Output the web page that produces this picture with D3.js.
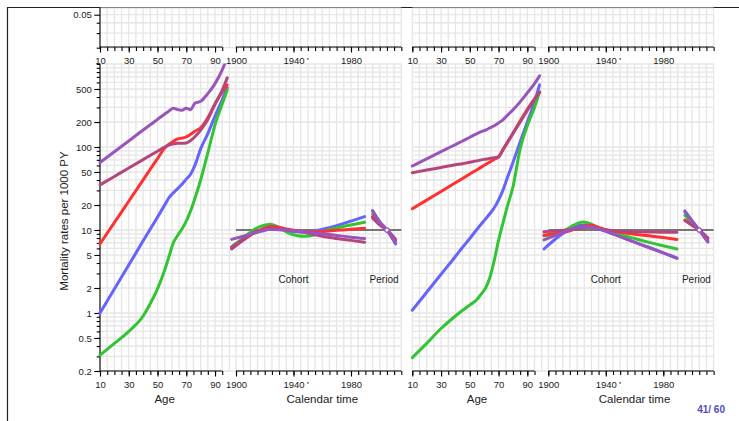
<!DOCTYPE html>
<html>
<head>
<meta charset="utf-8">
<script src="https://cdn.jsdelivr.net/npm/d3@7"></script>
<style>
  body { margin: 0; background: #fff; }
  svg { display: block; font-family: "Liberation Sans", Arial, sans-serif; }
</style>
</head>
<body>
<div id="chart"></div>
<script>
const ageKnots = [10, 20, 30, 40, 45, 50, 55, 58, 61, 64, 67, 70, 73, 76, 80, 85, 90, 95, 98.5];
const cohortYears = [1897, 1905, 1912, 1918, 1924, 1930, 1936, 1942, 1948, 1954, 1960, 1970, 1980, 1989.5];
const periodYears = [1995, 2000, 2005, 2011];

// series order: blue, green, red, magenta, purple
const seriesColors = ["#6464ff", "#33c433", "#ff3030", "#b4467e", "#9a55bc"];

// left panel: age-specific rates per 1000 PY
const ageLeft = [
  [1.0, 1.95, 3.78, 7.4, 10.3, 14.3, 20, 24.5, 28, 31.5, 35.5, 41, 47, 60, 95, 145, 235, 370, 520],
  [0.31, 0.43, 0.6, 0.92, 1.3, 1.95, 3.3, 4.8, 7.0, 8.6, 10.3, 12.8, 17, 24, 40, 85, 185, 330, 485],
  [6.8, 12.3, 22.2, 40.2, 54, 72.5, 97, 108, 117, 125, 128, 132, 142, 155, 170, 225, 330, 460, 560],
  [35, 44.2, 55.8, 70.5, 79.3, 89, 100, 106, 109, 111, 111, 112, 120, 133, 160, 215, 330, 480, 680],
  [65, 87.7, 118, 160, 185, 215, 250, 272, 293, 282, 278, 293, 282, 336, 355, 440, 580, 850, 1200]
];
// left panel: cohort rate ratios
const cohortLeft = [
  [0.59, 0.75, 0.91, 1.0, 1.05, 1.03, 0.98, 0.95, 0.94, 0.97, 1.02, 1.13, 1.28, 1.45],
  [0.63, 0.8, 1.0, 1.12, 1.17, 1.07, 0.93, 0.86, 0.84, 0.87, 0.95, 1.06, 1.15, 1.24],
  [0.6, 0.76, 0.91, 1.02, 1.1, 1.08, 1.02, 0.98, 0.96, 0.955, 0.96, 0.99, 1.02, 1.05],
  [0.62, 0.77, 0.93, 1.0, 1.05, 1.03, 1.0, 0.97, 0.93, 0.88, 0.84, 0.79, 0.75, 0.71],
  [0.77, 0.84, 0.91, 0.97, 1.02, 1.01, 0.99, 0.97, 0.95, 0.92, 0.9, 0.86, 0.82, 0.79]
];
// left panel: period rate ratios
const periodLeft = [
  [1.7, 1.25, 1.0, 0.68],
  [1.55, 1.2, 1.0, 0.72],
  [1.45, 1.17, 1.0, 0.76],
  [1.4, 1.15, 1.0, 0.77],
  [1.7, 1.25, 1.0, 0.7]
];

// right panel
const ageRight = [
  [1.08, 1.78, 2.93, 4.8, 6.2, 7.9, 10.2, 11.8, 13.6, 15.8, 18.5, 23, 30, 42, 65, 115, 200, 350, 560],
  [0.29, 0.43, 0.65, 0.92, 1.08, 1.25, 1.45, 1.7, 2.0, 2.7, 4.3, 7.5, 12, 19, 33, 95, 180, 300, 460],
  [18, 22.9, 29.1, 37.1, 41.8, 47.2, 53.3, 57.2, 61.5, 66, 71, 76, 92, 112, 146, 205, 285, 380, 455],
  [49, 52.7, 56.7, 61, 63, 65.6, 68, 70, 71.3, 72.6, 74.5, 76, 93, 113, 146, 200, 275, 375, 460],
  [59, 72, 88, 107, 118, 131, 145, 153, 160, 170, 180, 195, 212, 240, 280, 350, 450, 580, 720]
];
const cohortRight = [
  [0.59, 0.78, 0.95, 1.08, 1.15, 1.1, 1.02, 0.94, 0.86, 0.78, 0.715, 0.615, 0.53, 0.46],
  [0.85, 0.9, 1.0, 1.15, 1.25, 1.18, 1.04, 0.97, 0.9, 0.84, 0.79, 0.71, 0.645, 0.59],
  [0.87, 0.9, 0.95, 1.02, 1.1, 1.14, 1.06, 0.99, 0.95, 0.92, 0.89, 0.85, 0.81, 0.77],
  [0.95, 0.97, 1.0, 1.03, 1.07, 1.08, 1.03, 0.99, 0.97, 0.96, 0.95, 0.945, 0.94, 0.94],
  [0.76, 0.86, 0.96, 1.05, 1.1, 1.08, 1.02, 0.94, 0.86, 0.78, 0.715, 0.615, 0.53, 0.455]
];
const periodRight = [
  [1.7, 1.3, 1.0, 0.72],
  [1.5, 1.22, 1.0, 0.75],
  [1.32, 1.15, 1.0, 0.79],
  [1.3, 1.14, 1.0, 0.8],
  [1.65, 1.28, 1.0, 0.72]
];

const rateLabels = [0.2, 0.5, 1, 2, 5, 10, 20, 50, 100, 200, 500];
const topRateLabels = [0.05];
const ageLabels = [10, 30, 50, 70, 90];
const calLabels = [1900, 1940, 1980];

const width = 739, height = 421;
const gridColor = "#e6e6e6";

const svg = d3.select("#chart").append("svg")
  .attr("width", width).attr("height", height);

const yRate = d3.scaleLog().domain([0.2, 1000]).range([371, 64]);
const yTop = d3.scaleLog().domain([0.02, 0.05]).range([47.7, 14.7]);
const xAge = d3.scaleLinear().domain([10, 100]).range([100, 229.4]);
const xCal = d3.scaleLinear().domain([1900, 2015]).range([236, 401.3]);
const rr = v => yRate(v * 10);   // RR = 1 sits on rate 10

const ageTicks = d3.range(10, 96, 5);
const calTicks = d3.range(1900, 2016, 5);
const ageGrid = d3.range(10, 101, 5);

// minor log ticks
function logMinors(lo, hi) {
  const out = [];
  for (let e = -3; e <= 3; e++)
    for (let k = 1; k <= 9; k++) {
      const v = +(k * Math.pow(10, e)).toPrecision(3);
      if (v >= lo - 1e-9 && v <= hi + 1e-9) out.push(v);
    }
  return out;
}
const rateMinors = logMinors(0.2, 1000);
const topMinors = logMinors(0.02, 0.06);

// slide frame
svg.append("line").attr("x1", 7).attr("x2", width).attr("y1", 7.5).attr("y2", 7.5)
  .attr("stroke", "#222").attr("stroke-width", 1.2);
svg.append("line").attr("x1", 7.5).attr("x2", 7.5).attr("y1", 7).attr("y2", height)
  .attr("stroke", "#222").attr("stroke-width", 1.2);

svg.append("defs").append("clipPath").attr("id", "plotclip")
  .append("rect").attr("x", 90).attr("y", 63.5).attr("width", 330).attr("height", 308);

function drawPanel(offset, ages, cohorts, periods, withYAxis) {
  const g = svg.append("g").attr("transform", `translate(${offset},0)`);

  // grid, lower (main) block and upper block
  const blocks = [[63.5, 371, yRate, rateMinors], [8, 47.7, yTop, topMinors]];
  blocks.forEach(([y0, y1, ys, vals]) => {
    const grid = g.append("g").attr("stroke", gridColor).attr("stroke-width", 1.3);
    grid.selectAll(".h").data(vals).enter().append("line")
      .attr("x1", 100).attr("x2", xCal(2015))
      .attr("y1", d => ys(d)).attr("y2", d => ys(d));
    grid.selectAll(".va").data(ageGrid).enter().append("line")
      .attr("x1", d => xAge(d)).attr("x2", d => xAge(d)).attr("y1", y0).attr("y2", y1);
    grid.selectAll(".vc").data(calTicks).enter().append("line")
      .attr("x1", d => xCal(d)).attr("x2", d => xCal(d)).attr("y1", y0).attr("y2", y1);
  });

  // x axes at top (y=47) and bottom (y=371)
  [47, 371].forEach(yy => {
    const ax = g.append("g").attr("transform", `translate(0,${yy})`);
    [[xAge, ageTicks, ageLabels], [xCal, calTicks, calLabels]].forEach(([sc, all, lab]) => {
      ax.append("g").call(d3.axisBottom(sc).tickValues(all).tickSize(4).tickFormat(""))
        .call(a => a.select(".domain").remove());
      ax.append("g").call(d3.axisBottom(sc).tickValues(lab).tickSize(5.5).tickPadding(5).tickFormat(d3.format("d")))
        .call(a => a.select(".domain").remove());
      ax.append("line").attr("x1", sc(all[0])).attr("x2", sc(all[all.length - 1]))
        .attr("stroke", "#000").attr("stroke-width", 1.1);
    });
    ax.selectAll("line").attr("stroke-width", 1.1);
    ax.selectAll("text").attr("font-size", 9.5).attr("fill", "#222")
      .attr("font-family", "Liberation Sans, Arial, sans-serif");
    // small mark after the 1940 label
    ax.append("rect").attr("x", xCal(1950) - 0.7).attr("y", 11.2)
      .attr("width", 1.4).attr("height", 1.4).attr("fill", "#333");
  });

  if (withYAxis) {
    const ya = g.append("g").attr("transform", "translate(100,0)");
    ya.append("g").call(d3.axisLeft(yRate).tickValues(rateMinors).tickSize(3.3).tickFormat(""))
      .call(a => a.select(".domain").remove());
    ya.append("g").call(d3.axisLeft(yRate).tickValues(rateLabels).tickSize(5.7).tickPadding(2.5).tickFormat(d => String(d)))
      .call(a => a.select(".domain").remove());
    ya.append("line").attr("y1", yRate(0.2)).attr("y2", yRate(1000)).attr("stroke", "#000");
    ya.append("g").call(d3.axisLeft(yTop).tickValues([0.02, 0.03, 0.04]).tickSize(3.3).tickFormat(""))
      .call(a => a.select(".domain").remove());
    ya.append("g").call(d3.axisLeft(yTop).tickValues(topRateLabels).tickSize(5.7).tickPadding(2.5).tickFormat(d => String(d)))
      .call(a => a.select(".domain").remove());
    ya.append("line").attr("y1", 7.5).attr("y2", yTop(0.02)).attr("stroke", "#000");
    ya.selectAll("line").attr("stroke-width", 1.1);
    ya.selectAll("text").attr("font-size", 9.5).attr("fill", "#222")
      .attr("font-family", "Liberation Sans, Arial, sans-serif");
  }

  // reference line RR = 1
  g.append("line").attr("x1", xCal(1900)).attr("x2", xCal(2015))
    .attr("y1", rr(1)).attr("y2", rr(1)).attr("stroke", "#000").attr("stroke-width", 1.1);

  const plot = g.append("g").attr("clip-path", "url(#plotclip)");
  const ageLine = d3.line().x((d, i) => xAge(ageKnots[i])).y(d => yRate(d)).curve(d3.curveMonotoneX);
  const cohLine = d3.line().x((d, i) => xCal(cohortYears[i])).y(d => rr(d)).curve(d3.curveMonotoneX);
  const perLine = d3.line().x((d, i) => xCal(periodYears[i])).y(d => rr(d)).curve(d3.curveMonotoneX);

  [[ages, ageLine], [cohorts, cohLine], [periods, perLine]].forEach(([set, gen]) => {
    plot.selectAll(null).data(set).enter().append("path")
      .attr("d", gen)
      .attr("fill", "none")
      .attr("stroke", (d, i) => seriesColors[i])
      .attr("stroke-width", 3)
      .attr("stroke-linecap", "round")
      .attr("stroke-linejoin", "round");
  });

  g.append("circle").attr("cx", xCal(2005)).attr("cy", rr(1)).attr("r", 2.2)
    .attr("fill", "#fff").attr("stroke", "#9a55bc").attr("stroke-width", 1.2);

  g.append("text").attr("x", xCal(1940)).attr("y", 283.3).attr("text-anchor", "middle")
    .attr("font-size", 10).attr("fill", "#222").text("Cohort");
  g.append("text").attr("x", xCal(2003)).attr("y", 283.3).attr("text-anchor", "middle")
    .attr("font-size", 10).attr("fill", "#222").text("Period");

  g.append("text").attr("x", xAge(55)).attr("y", 403).attr("text-anchor", "middle")
    .attr("font-size", 11.5).attr("fill", "#222").text("Age");
  g.append("text").attr("x", xCal(1960)).attr("y", 403).attr("text-anchor", "middle")
    .attr("font-size", 11.5).attr("fill", "#222").text("Calendar time");
}

drawPanel(0, ageLeft, cohortLeft, periodLeft, true);
drawPanel(312.3, ageRight, cohortRight, periodRight, false);

svg.append("text").attr("transform", "translate(67.5,221) rotate(-90)")
  .attr("text-anchor", "middle").attr("font-size", 11.5).attr("fill", "#222")
  .text("Mortality rates per 1000 PY");

svg.append("text").attr("x", 725).attr("y", 412.5).attr("text-anchor", "end")
  .attr("font-size", 10).attr("font-weight", "bold").attr("fill", "#4d4dc8")
  .text("41/ 60");
</script>
</body>
</html>
